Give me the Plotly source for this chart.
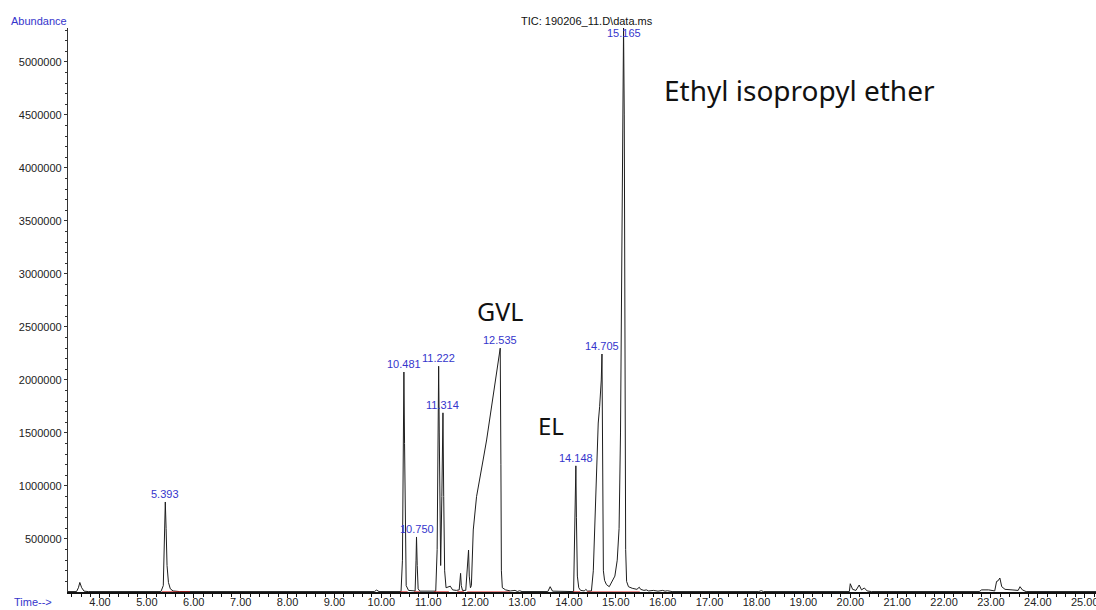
import numpy as np
import plotly.graph_objects as go

# Total ion chromatogram: retention time (min) and abundance
time_min = [
    3.318, 3.50, 3.54, 3.57, 3.61, 3.66, 3.75,
    5.30, 5.35, 5.37, 5.393, 5.41, 5.43, 5.46, 5.50, 5.56, 5.70,
    9.85, 9.90, 9.95,
    10.42, 10.45, 10.465, 10.481, 10.495, 10.51, 10.53, 10.58,
    10.72, 10.74, 10.750, 10.765, 10.785, 10.82,
    11.16, 11.19, 11.205, 11.222, 11.235, 11.25, 11.265, 11.29, 11.314, 11.33, 11.35, 11.38,
    11.43, 11.47, 11.52, 11.60, 11.66, 11.68, 11.69, 11.705, 11.73, 11.80,
    11.83, 11.86, 11.875, 11.90, 11.92, 11.96, 12.03, 12.10, 12.17, 12.245, 12.315,
    12.386, 12.458, 12.535, 12.55, 12.56, 12.58, 12.65, 12.75, 12.85, 12.90, 12.95, 13.00,
    13.55, 13.60, 13.65,
    14.10, 14.12, 14.148, 14.16, 14.18, 14.21, 14.25, 14.33, 14.36, 14.40,
    14.48, 14.52, 14.55, 14.58, 14.625, 14.655, 14.69, 14.705, 14.72, 14.735, 14.76,
    14.80, 14.86, 14.92, 14.98, 15.03, 15.07, 15.10, 15.13, 15.165, 15.18, 15.19,
    15.21, 15.23, 15.27, 15.35, 15.45, 15.50, 15.53, 15.60, 15.65, 15.70, 15.80,
    15.90, 16.00, 16.05, 16.10, 16.20,
    18.05, 18.10, 18.15,
    19.98, 20.00, 20.05, 20.12, 20.19, 20.24, 20.30, 20.36, 20.45,
    22.75, 22.80, 22.95, 23.08, 23.12, 23.15, 23.19, 23.23, 23.30, 23.45, 23.58,
    23.62, 23.67, 23.75, 25.24,
]
abundance = [
    4000, 4000, 40000, 90000, 40000, 8000, 4000,
    4000, 60000, 500000, 849000, 600000, 250000, 90000, 30000, 10000, 4000,
    4000, 18000, 4000,
    4000, 300000, 1500000, 2075000, 1400000, 400000, 60000, 15000,
    10000, 300000, 519000, 250000, 30000, 8000,
    8000, 400000, 1600000, 2130000, 1500000, 600000, 250000, 900000, 1690000, 900000, 200000, 40000,
    50000, 55000, 20000, 15000, 20000, 120000, 176000, 60000, 15000, 15000,
    200000, 396000, 150000, 40000, 60000, 585000, 899000, 1088000, 1245000, 1434000, 1654000,
    1874000, 2094000, 2300000, 1200000, 200000, 40000, 20000, 10000, 15000, 5000, 12000, 4000,
    4000, 50000, 8000,
    4000, 400000, 1190000, 700000, 150000, 40000, 15000, 10000, 25000, 8000,
    10000, 200000, 585000, 1057000, 1594000, 1748000, 2000000, 2245000, 1200000, 200000, 110000,
    70000, 50000, 100000, 150000, 300000, 600000, 1500000, 3500000, 5330000, 4500000, 2000000,
    400000, 100000, 50000, 35000, 25000, 45000, 25000, 15000, 20000, 10000, 15000,
    8000, 15000, 8000, 12000, 4000,
    4000, 12000, 4000,
    4000, 78000, 25000, 15000, 66000, 20000, 38000, 10000, 4000,
    4000, 20000, 20000, 10000, 100000, 105000, 132000, 50000, 25000, 20000, 15000,
    50000, 20000, 4000, 4000,
]

# Integration baselines (start / end, min)
baseline_start = [5.32, 10.40, 10.70, 11.12, 11.62, 11.83, 14.09, 14.38]
baseline_end = [5.92, 10.56, 10.82, 11.44, 11.76, 12.74, 14.24, 15.51]

# Labelled retention times (min)
peak_rt = [5.393, 10.481, 10.750, 11.222, 11.314, 12.535, 14.148, 14.705, 15.165]

# Compound names, their page position (paper fraction) and font size
compound_names = ["GVL", "EL", "Ethyl isopropyl ether"]
compound_x = [0.4202, 0.470, 0.712]
compound_y = [0.498, 0.296, 0.890]
compound_size = [25, 24, 28]

X_RANGE = [3.318, 25.24]
Y_RANGE = [0, 5.32e6]
BLUE = "#3535cc"
SANS = "Liberation Sans, Arial"

fig = go.Figure()

fig.add_trace(go.Scatter(
    x=time_min, y=abundance, mode="lines",
    line=dict(color="#1e1e1e", width=1), hoverinfo="skip", showlegend=False,
))

bx, by = [], []
for s, e in zip(baseline_start, baseline_end):
    bx += [s, e, None]
    by += [0, 0, None]
fig.add_trace(go.Scatter(
    x=bx, y=by, mode="lines", line=dict(color="#cc1010", width=1.2),
    hoverinfo="skip", showlegend=False, cliponaxis=False,
))

annotations = []
for rt in peak_rt:
    h = float(np.interp(rt, time_min, abundance))
    top = h >= Y_RANGE[1] * 0.99
    annotations.append(dict(
        x=rt, y=min(h, Y_RANGE[1]), xref="x", yref="y", text=f"{rt:.3f}",
        showarrow=False, xanchor="center", yanchor="middle",
        yshift=-5 if top else 8,
        font=dict(family=SANS, size=11, color=BLUE),
    ))

for name, cx, cy, fs in zip(compound_names, compound_x, compound_y, compound_size):
    annotations.append(dict(
        x=cx, y=cy, xref="paper", yref="paper", text=name, showarrow=False,
        xanchor="center", yanchor="middle",
        font=dict(family="Noto Sans, Open Sans", size=fs, color="#111111"),
    ))

annotations += [
    dict(x=0.505, y=1.0124, xref="paper", yref="paper", showarrow=False,
         xanchor="center", yanchor="middle",
         text="TIC: 190206_11.D\\data.ms",
         font=dict(family=SANS, size=11, color="#111111")),
    dict(x=0, y=1.0124, xref="paper", yref="paper", showarrow=False,
         xanchor="right", yanchor="middle", xshift=1, text="Abundance",
         font=dict(family=SANS, size=11, color=BLUE)),
    dict(x=-0.0545, y=-0.018, xref="paper", yref="paper", showarrow=False,
         xanchor="left", yanchor="middle", text="Time-->",
         font=dict(family=SANS, size=11, color=BLUE)),
]

fig.update_layout(
    width=1096, height=610,
    margin=dict(l=68, r=0, t=28, b=18),
    paper_bgcolor="white", plot_bgcolor="white",
    annotations=annotations,
    xaxis=dict(
        range=X_RANGE, showgrid=False, zeroline=False, automargin=False,
        layer="below traces",
        showline=True, linecolor="#111111", linewidth=1.5,
        ticks="outside", ticklen=4, tickwidth=1, tickcolor="#111111",
        tick0=0, dtick=1, tickformat=".2f", ticklabeloverflow="allow",
        ticklabelstandoff=-5,
        minor=dict(dtick=0.2, ticks="outside", ticklen=3, tickcolor="#111111"),
        tickfont=dict(family=SANS, size=11, color="#222222"),
    ),
    yaxis=dict(
        range=Y_RANGE, showgrid=False, zeroline=False, automargin=False,
        showline=True, linecolor="#333333", linewidth=1.2,
        ticks="outside", ticklen=3, tickwidth=1, tickcolor="#333333",
        tickvals=list(range(500000, 5000001, 500000)),
        ticktext=[str(v) for v in range(500000, 5000001, 500000)],
        minor=dict(tickvals=[v for v in range(100000, 5300001, 100000) if v % 500000],
                   ticks="outside", ticklen=2, tickcolor="#333333"),
        tickfont=dict(family=SANS, size=11, color="#222222"),
    ),
)

fig.write_html("out.html")
